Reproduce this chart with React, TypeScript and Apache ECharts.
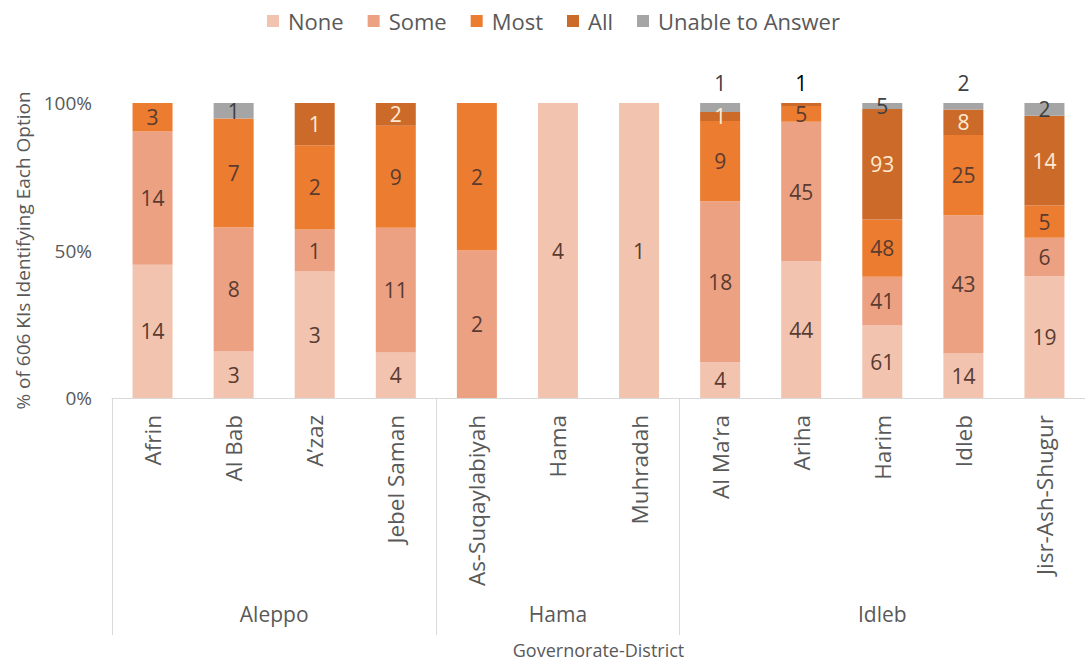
import React, { useEffect, useRef } from "react";
import * as echarts from "echarts";

const districts = [
  "Afrin", "Al Bab", "A’zaz", "Jebel Saman",
  "As-Suqaylabiyah", "Hama", "Muhradah",
  "Al Ma’ra", "Ariha", "Harim", "Idleb", "Jisr-Ash-Shugur",
];
const governorates = ["Aleppo", "Hama", "Idleb"];
const governorateSizes = [4, 3, 5];

const seriesNames = ["None", "Some", "Most", "All", "Unable to Answer"];
const noneCounts = [14, 3, 3, 4, 0, 4, 1, 4, 44, 61, 14, 19];
const someCounts = [14, 8, 1, 11, 2, 0, 0, 18, 45, 41, 43, 6];
const mostCounts = [3, 7, 2, 9, 2, 0, 0, 9, 5, 48, 25, 5];
const allCounts = [0, 0, 1, 2, 0, 0, 0, 1, 1, 93, 8, 14];
const unableCounts = [0, 1, 0, 0, 0, 0, 0, 1, 0, 5, 2, 2];

const yTicks = [0, 50, 100];

const colors = ["#F2C4B0", "#ECA183", "#EC7C30", "#CC6A2A", "#A5A5A5"];
const labelColors = ["#5A3B30", "#5A3B30", "#5A3B30", "#FFEBD2", "#404040"];
// labels moved above the bar: [series index, category index, colour]
const aboveLabels: [number, number, string][] = [
  [4, 7, "#404040"],
  [3, 8, "#000000"],
  [4, 10, "#404040"],
];

const FONT = "'Open Sans', sans-serif";

export default function App() {
  const ref = useRef<HTMLDivElement>(null);
  useEffect(() => {
    if (!ref.current) return;
    const chart = echarts.init(ref.current, undefined, { renderer: "svg" });
    const counts = [noneCounts, someCounts, mostCounts, allCounts, unableCounts];
    const totals = districts.map((_, i) => counts.reduce((s, c) => s + c[i], 0));

    const boundaries: number[] = [-0.5];
    const centers: number[] = [];
    let acc = 0;
    governorateSizes.forEach((n) => {
      centers.push(acc + (n - 1) / 2);
      acc += n;
      boundaries.push(acc - 0.5);
    });

    const series = seriesNames.map((name, si) => ({
      name,
      type: "bar",
      stack: "total",
      barWidth: 40,
      itemStyle: { color: colors[si] },
      label: {
        show: true,
        position: "inside",
        color: labelColors[si],
        fontFamily: FONT,
        fontSize: 21,
        formatter: (p: any) => (counts[si][p.dataIndex] ? String(counts[si][p.dataIndex]) : ""),
      },
      data: counts[si].map((c, i) => {
        const item: any = { value: (c / totals[i]) * 100 };
        const ab = aboveLabels.find((a) => a[0] === si && a[1] === i);
        if (ab) item.label = { position: "top", distance: 10, color: ab[2] };
        return item;
      }),
    }));

    chart.setOption({
      animation: false,
      textStyle: { fontFamily: FONT },
      legend: {
        top: 5,
        left: 262,
        itemWidth: 12,
        itemHeight: 12,
        itemGap: 24,
        icon: "rect",
        textStyle: { fontSize: 22, color: "#595959", fontFamily: FONT, padding: [0, 0, 0, 4] },
        data: seriesNames,
      },
      grid: { left: 112, top: 103, width: 983, height: 295 },
      xAxis: [
        {
          type: "category",
          data: districts,
          position: "bottom",
          axisLine: { lineStyle: { color: "#D9D9D9" } },
          axisTick: { show: false },
          axisLabel: {
            rotate: 90,
            margin: 17,
            interval: 0,
            fontSize: 22.5,
            color: "#595959",
            fontFamily: FONT,
          },
          name: "Governorate-District",
          nameLocation: "middle",
          nameGap: 244,
          nameTextStyle: { fontSize: 18, lineHeight: 16, color: "#595959", fontFamily: FONT },
        },
        {
          type: "value",
          position: "bottom",
          min: -0.5,
          max: 11.5,
          axisLine: { show: false },
          splitLine: { show: false },
          axisTick: {
            show: true,
            customValues: boundaries,
            length: 237,
            lineStyle: { color: "#D9D9D9" },
          },
          axisLabel: {
            show: true,
            customValues: centers,
            margin: 205,
            fontSize: 21,
            color: "#595959",
            fontFamily: FONT,
            formatter: (v: number) => {
              const k = centers.findIndex((c) => Math.abs(c - v) < 1e-6);
              return k >= 0 ? governorates[k] : "";
            },
          },
        },
      ],
      yAxis: {
        type: "value",
        min: yTicks[0],
        max: yTicks[yTicks.length - 1],
        interval: yTicks[1] - yTicks[0],
        axisLine: { show: false },
        axisTick: { show: false },
        splitLine: { show: false },
        axisLabel: {
          formatter: "{value}%",
          margin: 20,
          fontSize: 19,
          color: "#595959",
          fontFamily: FONT,
        },
        name: "% of 606 KIs Identifying Each Option",
        nameLocation: "middle",
        nameGap: 78,
        nameTextStyle: { fontSize: 19, color: "#595959", fontFamily: FONT },
      },
      series,
    });
    return () => chart.dispose();
  }, []);
  return (
    <div
      ref={ref}
      style={{ position: "fixed", left: 0, top: 0, width: 1085, height: 662, background: "#fff" }}
    />
  );
}
